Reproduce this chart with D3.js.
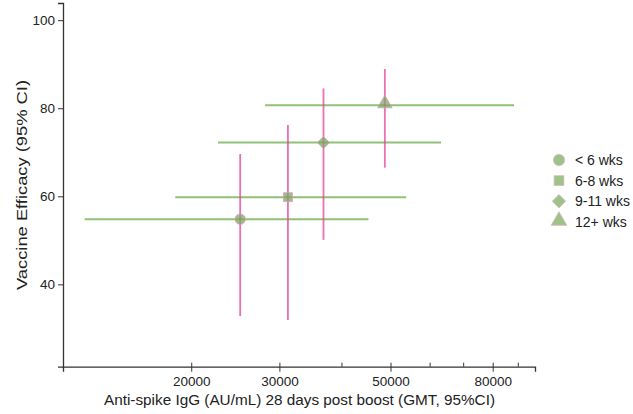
<!DOCTYPE html>
<html><head><meta charset="utf-8">
<script src="https://cdn.jsdelivr.net/npm/d3@7"></script>
<style>body{margin:0;background:#fff}svg{display:block}text{font-family:"Liberation Sans",Arial,sans-serif;fill:#222}</style>
</head><body>
<svg id="c" width="633" height="414"></svg>
<script>
const groups = ["< 6 wks", "6-8 wks", "9-11 wks", "12+ wks"];
const shapes = ["circle", "square", "diamond", "triangle"];
const gmt = [25050, 31200, 36740, 48720];
const gmtLow = [12250, 18580, 22620, 28100];
const gmtHigh = [45180, 53740, 63080, 88240];
const ve = [54.8, 59.8, 72.2, 80.7];
const veLow = [32.8, 31.9, 50.1, 66.5];
const veHigh = [69.6, 76.2, 84.5, 88.9];
const xMajor = [20000, 30000, 50000, 80000];
const xMinor = [40000, 60000, 70000, 90000];
const yTicks = [40, 60, 80, 100];

const svg = d3.select("#c");
const x = d3.scaleLog().domain([11090, 97180]).range([63, 535]);
const y = d3.scaleLinear().domain([21.3, 103.9]).range([366.7, 3]);

const data = groups.map((g,i)=>({g, shape:shapes[i], x:gmt[i], xl:gmtLow[i], xh:gmtHigh[i], y:ve[i], yl:veLow[i], yh:veHigh[i]}));

// axes
const yAxis = svg.append("g").attr("transform","translate(63,0)")
  .call(d3.axisLeft(y).tickValues(yTicks).tickSize(5).tickPadding(3));
const xAxis = svg.append("g").attr("transform","translate(0,366.7)")
  .call(d3.axisBottom(x).tickValues(xMajor).tickFormat(d3.format("d")).tickSize(5).tickPadding(5));
[yAxis,xAxis].forEach(a=>{
  a.selectAll("path.domain").attr("stroke","#333").attr("stroke-width",1.3);
  a.selectAll(".tick line").attr("stroke","#333");
  a.selectAll(".tick text").attr("font-size","13.5px").attr("fill","#222").attr("font-family","Liberation Sans, Arial, sans-serif");
});
xAxis.selectAll(".tick line").attr("y1",-4).attr("y2",5);
xAxis.selectAll("line.minor").data(xMinor).enter().append("line").attr("class","minor")
  .attr("x1",d=>x(d)).attr("x2",d=>x(d)).attr("y1",-4).attr("y2",0).attr("stroke","#333");

// error bars
svg.append("g").selectAll("line").data(data).enter().append("line")
  .attr("x1",d=>x(d.xl)).attr("x2",d=>x(d.xh)).attr("y1",d=>y(d.y)).attr("y2",d=>y(d.y))
  .attr("stroke","#6aad48").attr("stroke-opacity",0.75).attr("stroke-width",2);
svg.append("g").selectAll("line").data(data).enter().append("line")
  .attr("x1",d=>x(d.x)).attr("x2",d=>x(d.x)).attr("y1",d=>y(d.yl)).attr("y2",d=>y(d.yh))
  .attr("stroke","#e0409a").attr("stroke-opacity",0.75).attr("stroke-width",1.8);

const symMap = {circle:d3.symbolCircle, square:d3.symbolSquare, diamond:d3.symbolSquare, triangle:d3.symbolTriangle};
const sizes = {circle:85, square:80, diamond:75, triangle:92};
const rot = s => s==="diamond" ? " rotate(45)" : "";
svg.append("g").selectAll("path").data(data).enter().append("path")
  .attr("transform",d=>`translate(${x(d.x)},${y(d.y)+(d.shape==="triangle"?-1.5:0)})${rot(d.shape)}`)
  .attr("d",d=>d3.symbol().type(symMap[d.shape]).size(sizes[d.shape])())
  .attr("fill","#7fa765").attr("fill-opacity",0.75).attr("stroke","#d7a0bd").attr("stroke-width",0.8);

// legend
const lg = svg.append("g");
groups.forEach((g,i)=>{
  const yy = 160 + i*20.6;
  lg.append("path").attr("transform",`translate(559,${yy + (shapes[i]==="triangle"?-1:0)})${rot(shapes[i])}`)
    .attr("d",d3.symbol().type(symMap[shapes[i]]).size(sizes[shapes[i]]+15)())
    .attr("fill","#9dc486").attr("stroke","#d9b5c6").attr("stroke-width",0.8);
  lg.append("text").attr("x",575).attr("y",yy+5).attr("font-size","14px").text(g);
});

// titles
svg.append("text").attr("x",299.5).attr("y",404.5).attr("text-anchor","middle").attr("font-size","15.3px")
  .attr("textLength",391).attr("lengthAdjust","spacingAndGlyphs")
  .text("Anti-spike IgG (AU/mL) 28 days post boost (GMT, 95%CI)");
svg.append("text").attr("transform","translate(27,185) rotate(-90)").attr("text-anchor","middle").attr("font-size","15.5px")
  .attr("textLength",210).attr("lengthAdjust","spacingAndGlyphs")
  .text("Vaccine Efficacy (95% CI)");
</script>
</body></html>
